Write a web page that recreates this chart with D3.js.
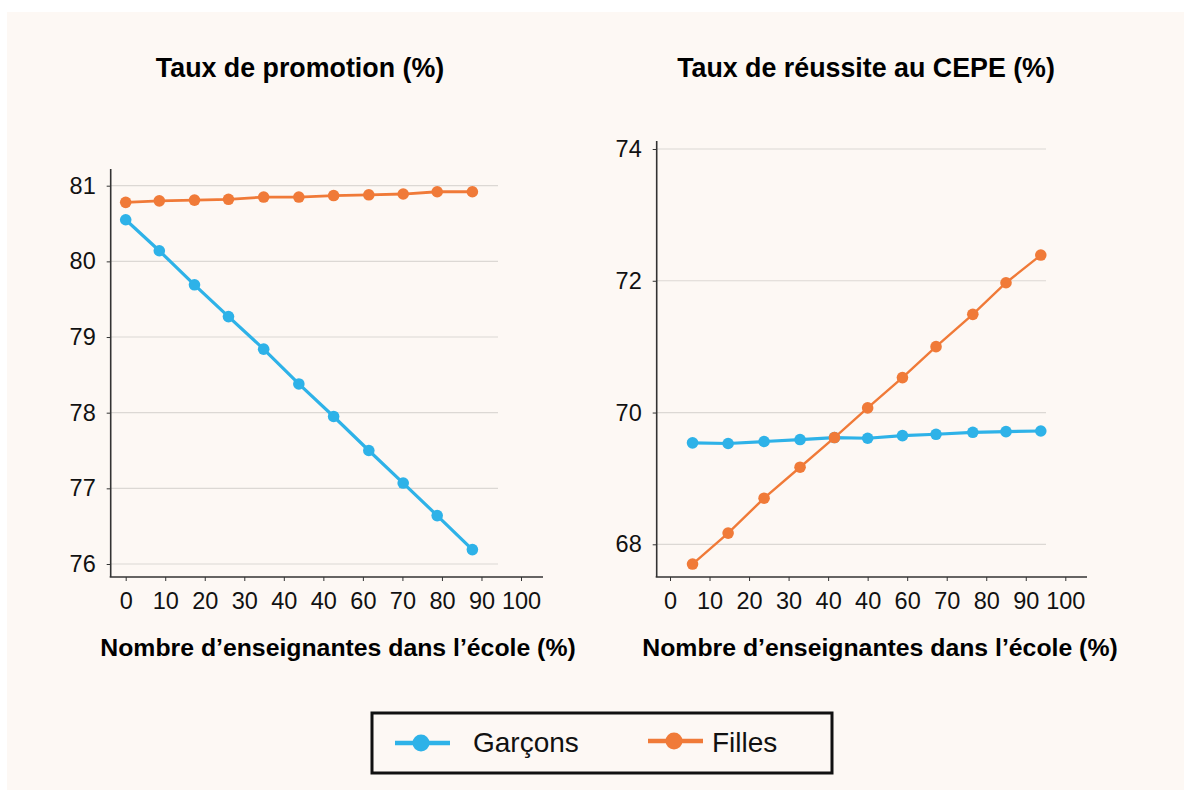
<!DOCTYPE html>
<html>
<head>
<meta charset="utf-8">
<script src="https://cdn.jsdelivr.net/npm/d3@7"></script>
<style>
	html, body { margin: 0; padding: 0; background: #ffffff; }
	svg { display: block; font-family: "Liberation Sans", Arial, sans-serif; }
</style>
</head>
<body>
<svg width="1184" height="796"></svg>
<script>
// x axis: the printed labels (note the repeated "40")
var xTickValues = [0, 10, 20, 30, 40, 50, 60, 70, 80, 90, 100];
var xTickLabels = ["0", "10", "20", "30", "40", "40", "60", "70", "80", "90", "100"];

// left panel: taux de promotion
var promoX = [0, 8.5, 17.4, 26.0, 34.9, 43.8, 52.6, 61.5, 70.2, 78.8, 87.7];
var promoGarcons = [80.55, 80.14, 79.69, 79.27, 78.84, 78.38, 77.95, 77.50, 77.07, 76.64, 76.19];
var promoFilles = [80.78, 80.80, 80.81, 80.82, 80.85, 80.85, 80.87, 80.88, 80.89, 80.92, 80.92];
var promoYTicks = [76, 77, 78, 79, 80, 81];

// right panel: taux de réussite au CEPE
var cepeX = [5.7, 14.7, 23.8, 32.9, 41.6, 50.0, 58.8, 67.3, 76.6, 85.0, 93.8];
var cepeGarcons = [69.54, 69.53, 69.56, 69.59, 69.62, 69.61, 69.65, 69.67, 69.70, 69.71, 69.72];
var cepeFilles = [67.70, 68.17, 68.70, 69.17, 69.62, 70.07, 70.53, 71.00, 71.49, 71.97, 72.39];
var cepeYTicks = [68, 70, 72, 74];

var seriesNames = ["Garçons", "Filles"];
var seriesColors = ["#2eb2e8", "#f07a38"];

var svg = d3.select("svg");

// cream panel
svg.append("rect")
	.attr("x", 7).attr("y", 12)
	.attr("width", 1177).attr("height", 778)
	.attr("fill", "#fdf8f4");

function drawPanel(opts) {
	var x = d3.scaleLinear().domain([0, 100]).range([opts.x0, opts.x1]);
	var y = d3.scaleLinear().domain(opts.yDomain).range([opts.yBottom, opts.yTop]);

	var g = svg.append("g");

	// gridlines
	g.append("g")
		.selectAll("line")
		.data(opts.yTicks)
		.enter().append("line")
		.attr("x1", opts.axisX).attr("x2", opts.gridEnd)
		.attr("y1", function(d) { return y(d); })
		.attr("y2", function(d) { return y(d); })
		.attr("stroke", "#dcd8d4")
		.attr("stroke-width", 1.2);

	// y axis
	var yAxis = d3.axisLeft(y)
		.tickValues(opts.yTicks)
		.tickSize(4)
		.tickPadding(11)
		.tickFormat(d3.format("d"));
	var ya = g.append("g")
		.attr("transform", "translate(" + opts.axisX + ",0)")
		.call(yAxis);
	ya.select(".domain").remove();
	ya.append("line")
		.attr("x1", 0).attr("x2", 0)
		.attr("y1", opts.axisTop).attr("y2", opts.axisY)
		.attr("stroke", "#333").attr("stroke-width", 1.6);
	ya.selectAll(".tick line").attr("stroke", "#333");
	ya.selectAll(".tick text")
		.attr("fill", "#111")
		.style("font-size", "23.5px")
		.style("font-family", "'Liberation Sans', Arial, sans-serif");

	// x axis
	var xAxis = d3.axisBottom(x)
		.tickValues(xTickValues)
		.tickSize(4)
		.tickPadding(11)
		.tickFormat(function(d, i) { return xTickLabels[i]; });
	var xa = g.append("g")
		.attr("transform", "translate(0," + opts.axisY + ")")
		.call(xAxis);
	xa.select(".domain").remove();
	xa.append("line")
		.attr("x1", opts.axisX - 1).attr("x2", opts.axisEnd)
		.attr("y1", 0).attr("y2", 0)
		.attr("stroke", "#333").attr("stroke-width", 1.6);
	xa.selectAll(".tick line").attr("stroke", "#333");
	xa.selectAll(".tick text")
		.attr("fill", "#111")
		.style("font-size", "23.5px")
		.style("font-family", "'Liberation Sans', Arial, sans-serif");

	// titles
	g.append("text")
		.attr("x", opts.titleX).attr("y", 77)
		.attr("text-anchor", "middle")
		.style("font-size", "26.8px").style("font-weight", "bold")
		.text(opts.title);
	g.append("text")
		.attr("x", opts.xTitleX).attr("y", 656)
		.attr("text-anchor", "middle")
		.style("font-size", "24.8px").style("font-weight", "bold")
		.text("Nombre d\u2019enseignantes dans l\u2019\u00e9cole (%)");

	// series
	var line = d3.line()
		.x(function(d) { return x(d[0]); })
		.y(function(d) { return y(d[1]); });

	opts.series.forEach(function(values, si) {
		var pts = opts.xs.map(function(v, i) { return [v, values[i]]; });
		g.append("path")
			.datum(pts)
			.attr("d", line)
			.attr("fill", "none")
			.attr("stroke", seriesColors[si])
			.attr("stroke-width", opts.widths[si]);
		g.append("g")
			.selectAll("circle")
			.data(pts)
			.enter().append("circle")
			.attr("cx", function(d) { return x(d[0]); })
			.attr("cy", function(d) { return y(d[1]); })
			.attr("r", 5.8)
			.attr("fill", seriesColors[si]);
	});
}

drawPanel({
	title: "Taux de promotion (%)",
	titleX: 300, xTitleX: 338,
	x0: 125.7, x1: 521,
	yDomain: [76, 81], yBottom: 564, yTop: 185.7,
	axisX: 110.7, axisTop: 169, axisY: 577, axisEnd: 543, gridEnd: 498,
	yTicks: promoYTicks,
	xs: promoX,
	series: [promoGarcons, promoFilles],
	widths: [3.2, 2.8]
});

drawPanel({
	title: "Taux de r\u00e9ussite au CEPE (%)",
	titleX: 866, xTitleX: 880,
	x0: 670, x1: 1065.3,
	yDomain: [68, 74], yBottom: 544.3, yTop: 149,
	axisX: 656.7, axisTop: 141, axisY: 577, axisEnd: 1087, gridEnd: 1046,
	yTicks: cepeYTicks,
	xs: cepeX,
	series: [cepeGarcons, cepeFilles],
	widths: [3.2, 2.4]
});

// legend
var legend = svg.append("g");
legend.append("rect")
	.attr("x", 372).attr("y", 713)
	.attr("width", 460).attr("height", 60)
	.attr("fill", "none")
	.attr("stroke", "#111")
	.attr("stroke-width", 3);

var legendItems = [
	{lineX: 395, textX: 473, y: 743},
	{lineX: 648, textX: 712, y: 741}
];
legendItems.forEach(function(item, i) {
	legend.append("line")
		.attr("x1", item.lineX).attr("x2", item.lineX + 55)
		.attr("y1", item.y).attr("y2", item.y)
		.attr("stroke", seriesColors[i])
		.attr("stroke-width", 4.5);
	legend.append("circle")
		.attr("cx", item.lineX + 26).attr("cy", item.y)
		.attr("r", 8.5)
		.attr("fill", seriesColors[i]);
	legend.append("text")
		.attr("x", item.textX).attr("y", 752)
		.style("font-size", "28px")
		.attr("fill", "#111")
		.text(seriesNames[i]);
});
</script>
</body>
</html>
